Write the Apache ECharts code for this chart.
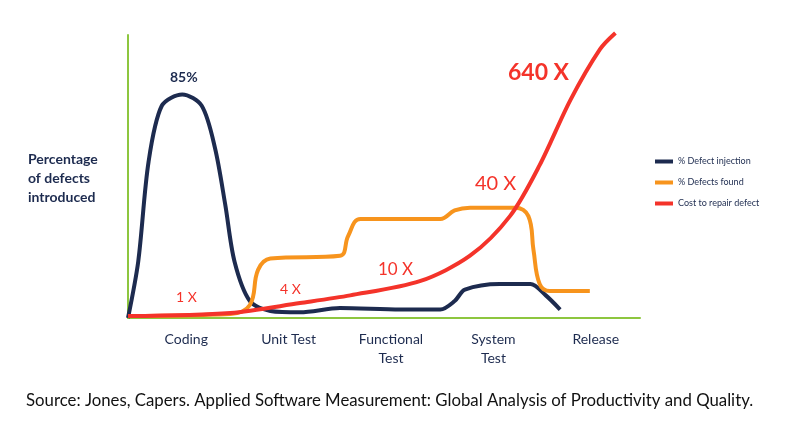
<!DOCTYPE html><html><head><meta charset="utf-8">
<script src="https://cdn.jsdelivr.net/npm/echarts@6/dist/echarts.min.js"></script>
<style>body{margin:0;background:#fff}#c{width:800px;height:442px}</style></head><body><div id="c"></div>
<script>
const categories=["Coding","Unit Test","Functional\nTest","System\nTest","Release"];
const injection=[[0,0],[0.1,20],[0.2,55],[0.33,75],[0.53,79],[0.72,75],[0.85,60],[0.95,40],[1.04,20],[1.19,6],[1.39,2.5],[1.68,2],[2.07,3.5],[2.66,3],[3.05,3],[3.19,6],[3.29,10],[3.63,12],[3.93,12],[4.08,8],[4.22,3]];
const found=[[0,0.7],[1.0,1.4],[1.19,4.6],[1.27,17],[1.39,21],[2.07,22],[2.15,29],[2.27,35],[3.05,35],[3.19,38],[3.34,39],[3.78,39],[3.91,36],[3.96,24],[4.02,12],[4.12,9.5],[4.51,9.5]];
const cost=[[0,0.7],[1.0,1.8],[1.68,5.3],[2.17,8],[2.85,13],[3.34,22],[3.73,36],[4.02,54],[4.32,77],[4.61,95],[4.76,100.7]];
const c=echarts.init(document.getElementById('c'));
const F='Lato';
c.setOption({
 animation:false,
 grid:{left:128,right:160,top:35,bottom:124},
 xAxis:[{type:'value',min:0,max:5,axisLine:{show:true,lineStyle:{color:'#8dc63f',width:2}},axisTick:{show:false},axisLabel:{show:false},splitLine:{show:false}},
  {type:'category',position:'bottom',data:categories,axisLine:{show:false},axisTick:{show:false},axisLabel:{color:'#1d2b4f',fontFamily:F,fontSize:14,margin:12,lineHeight:19,padding:[0,0,0,14]}}],
 yAxis:{type:'value',min:0,max:100,axisLine:{show:true,lineStyle:{color:'#8dc63f',width:2}},axisTick:{show:false},axisLabel:{show:false},splitLine:{show:false}},
 legend:{orient:'vertical',left:650,top:152,itemWidth:18,itemHeight:4,itemGap:12,icon:'rect',textStyle:{fontFamily:F,fontSize:9,color:'#1d2b4f'},
  data:['% Defect injection','% Defects found','Cost to repair defect']},
 series:[
  {name:'% Defect injection',type:'line',smooth:0.3,symbol:'none',clip:false,data:injection,lineStyle:{color:'#1d2b4f',width:4},itemStyle:{color:'#1d2b4f'}},
  {name:'% Defects found',type:'line',smooth:0.4,symbol:'none',clip:false,data:found,lineStyle:{color:'#f7941d',width:4},itemStyle:{color:'#f7941d'}},
  {name:'Cost to repair defect',type:'line',smooth:0.3,symbol:'none',clip:false,data:cost,lineStyle:{color:'#f4332a',width:4},itemStyle:{color:'#f4332a'}}
 ],
 graphic:[
  {type:'text',left:170,top:70,style:{text:'85%',font:'bold 14px Lato',fill:'#1d2b4f'}},
  {type:'text',left:176,top:290,style:{text:'1 X',font:'14px Lato',fill:'#f4332a'}},
  {type:'text',left:280,top:282,style:{text:'4 X',font:'14px Lato',fill:'#f4332a'}},
  {type:'text',left:378,top:261,style:{text:'10 X',font:'17px Lato',fill:'#f4332a'}},
  {type:'text',left:475,top:174,style:{text:'40 X',font:'20px Lato',fill:'#f4332a'}},
  {type:'text',left:508,top:61,style:{text:'640 X',font:'bold 23px Lato',fill:'#f4332a'}},
  {type:'text',left:28,top:150,style:{text:'Percentage\nof defects\nintroduced',font:'bold 14px Lato',lineHeight:19,fill:'#1d2b4f'}},
  {type:'text',left:26,top:392,style:{text:'Source: Jones, Capers. Applied Software Measurement: Global Analysis of Productivity and Quality.',font:'16.8px Lato',fill:'#111'}}
 ]
});
</script></body></html>
